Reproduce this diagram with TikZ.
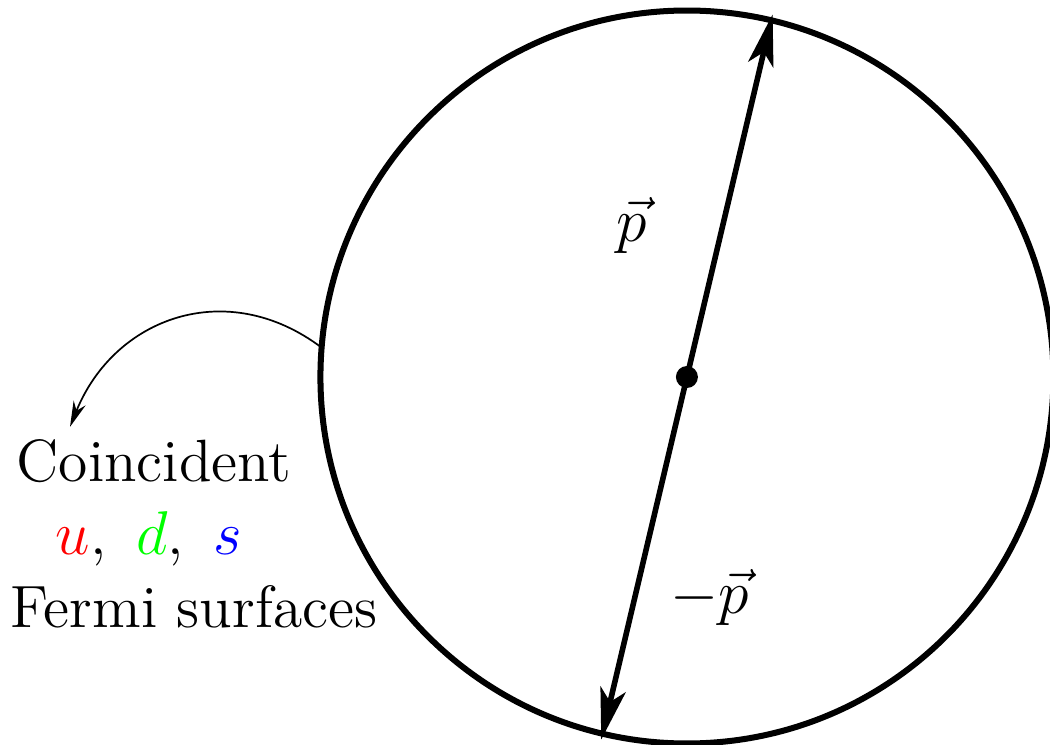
\documentclass[tikz,border=0pt]{standalone}
\usepackage{amsmath,amssymb}
\usetikzlibrary{arrows.meta,calc}

\begin{document}
\begin{tikzpicture}[every node/.style={inner sep=0pt, font=\fontsize{13.9}{17}\selectfont},
    momentum/.style={line width=1.3pt, -{Stealth[length=12pt, width=6pt, inset=3pt]}}]
  \useasboundingbox (0,0) rectangle (8.595,6.098);

  % Fermi sphere
  \coordinate (ctr) at (5.623,3.012);
  \draw[line width=1.4pt] (ctr) circle (3);
  \fill (ctr) circle (0.09);

  % Momenta
  \coordinate (pup) at ($(ctr)+(76.7:3.05)$);
  \coordinate (pdown) at ($(ctr)+(256.7:3.05)$);
  \draw[momentum] (ctr) -- (pup);
  \draw[momentum] (ctr) -- (pdown);
  \node (plab) at (5.173,4.256) {$\vec{p}$};
  \node (mplab) at (5.81,1.211) {$-\vec{p}$};

  % Label
  \node[anchor=base west] (coinc) at (0.13,2.153) {Coincident};
  \node[anchor=base west] (flav) at (0.45,1.555) {$\color{red}u$,\hspace{0.5em}$\color{green}d$,\hspace{0.5em}$\color{blue}s$};
  \node[anchor=base west] (fermi) at (0.08,0.958) {Fermi surfaces};
  \coordinate (surf) at ($(ctr)+(175.4:3)$);
  \coordinate (labtip) at (0.573,2.604);
  \draw[thin, -{Stealth[length=6pt, width=3pt]}] (surf) to[out=143, in=68, looseness=1.15] (labtip);
\end{tikzpicture}
\end{document}
